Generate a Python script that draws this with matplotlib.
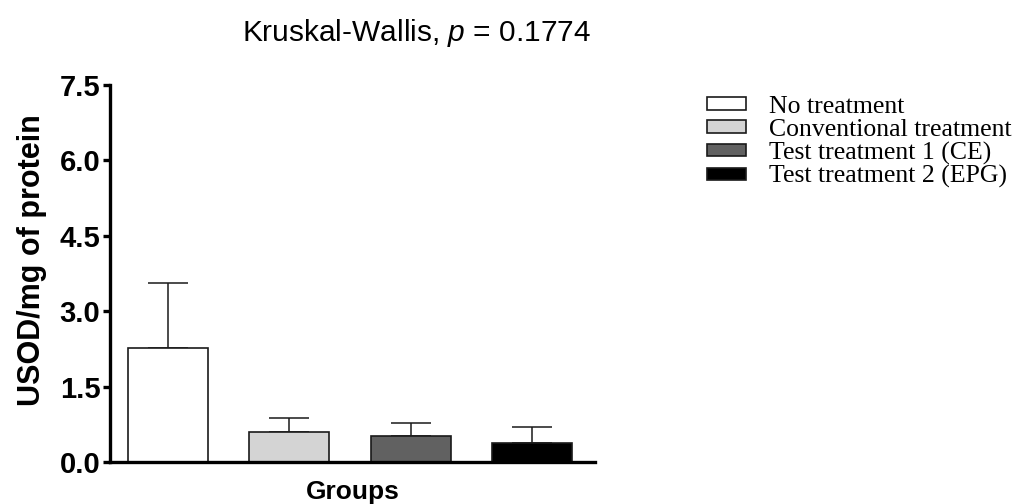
import matplotlib
matplotlib.use("Agg")
import matplotlib.pyplot as plt
from matplotlib.patches import Patch

groups = ["No treatment", "Conventional treatment", "Test treatment 1 (CE)", "Test treatment 2 (EPG)"]
means = [2.26, 0.60, 0.52, 0.37]
errors = [1.31, 0.27, 0.26, 0.33]
colors = ["#ffffff", "#d4d4d4", "#616161", "#000000"]
yticks = [0.0, 1.5, 3.0, 4.5, 6.0, 7.5]

plt.rcParams["font.family"] = "Liberation Sans"
plt.rcParams["mathtext.fontset"] = "custom"
plt.rcParams["mathtext.it"] = "Liberation Sans:italic"
plt.rcParams["mathtext.rm"] = "Liberation Sans"

fig = plt.figure(figsize=(10.18, 5.04), dpi=100)
ax = fig.add_axes([110 / 1018, 1 - 462 / 504, 485 / 1018, 377 / 504])

x = list(range(len(groups)))
ax.bar(x, means, width=0.66, color=colors, edgecolor="#1a1a1a", linewidth=1.2, zorder=2)
ax.errorbar(x, means, yerr=[[0] * len(errors), errors], fmt="none", ecolor="#1a1a1a",
            elinewidth=1.1, capsize=14.5, capthick=1.1, zorder=1)

ax.set_xlim(-0.48, 3.52)
ax.set_ylim(0, 7.5)
ax.set_yticks(yticks)
ax.set_yticklabels([f"{v:.1f}" for v in yticks], fontsize=21, fontweight="bold")
ax.set_xticks([])
ax.spines["top"].set_visible(False)
ax.spines["right"].set_visible(False)
ax.spines["left"].set_linewidth(2.4)
ax.spines["bottom"].set_linewidth(2.4)
ax.tick_params(axis="y", width=2.4, length=5, pad=2)
ax.set_ylabel("USOD/mg of protein", fontsize=22, fontweight="bold")
ax.yaxis.set_label_coords(-0.13, 0.535)
ax.set_xlabel("Groups", fontsize=19, fontweight="bold", labelpad=13)

fig.text(416 / 1018, 1 - 33 / 504, "Kruskal-Wallis, $p$ = 0.1774", fontsize=21.5,
         ha="center", va="center")

handles = [Patch(facecolor=c, edgecolor="#1a1a1a", linewidth=1.2) for c in colors]
fig.legend(handles, groups, loc="upper left", bbox_to_anchor=(707 / 1018, 1 - 96 / 504),
           frameon=False, prop={"family": "Liberation Serif", "size": 18.5},
           handlelength=1.5, handleheight=0.38, labelspacing=0.03, handletextpad=0.9,
           borderpad=0, borderaxespad=0)

fig.savefig("out.png", dpi=100)
